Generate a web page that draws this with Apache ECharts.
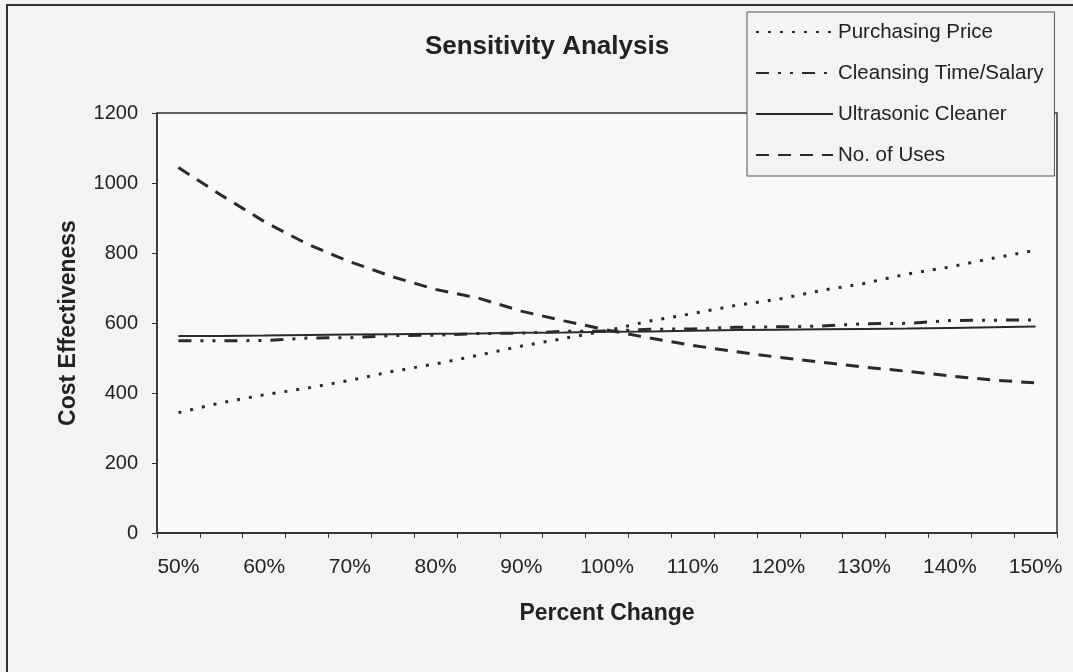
<!DOCTYPE html>
<html>
<head>
<meta charset="utf-8">
<script src="https://cdn.jsdelivr.net/npm/echarts@6/dist/echarts.min.js"></script>
<style>
html,body{margin:0;padding:0;background:#f3f3f3;}
#chart{width:1073px;height:672px;}
</style>
</head>
<body>
<div id="chart"></div>
<script>
const categories = ['50%','55%','60%','65%','70%','75%','80%','85%','90%','95%','100%','105%','110%','115%','120%','125%','130%','135%','140%','145%','150%'];
const purchasingPrice = [344,372,395,414,436,462,483,508,534,556,578,606,627,650,668,693,713,740,760,785,808];
const cleansingTime = [549,549,550,557,558,564,565,570,571,576,577,582,583,588,589,591,598,599,607,608,609];
const ultrasonicCleaner = [563,563,564,566,567,568,569,570,572,573,575,576,578,580,581,582,583,584,586,588,590];
const noOfUses = [1044,965,890,826,775,732,696,671,634,606,580,557,536,518,502,488,474,462,449,437,429];
const yTicks = {min: 0, max: 1200, interval: 200};

const FONT = "'Liberation Sans', Arial, sans-serif";
const LINE = '#2a2a2a';

const chart = echarts.init(document.getElementById('chart'));
chart.setOption({
  backgroundColor: '#f3f3f3',
  animation: false,
  graphic: [{
    type: 'rect', z: -1,
    shape: {x: 7, y: 5, width: 1100, height: 700},
    style: {fill: 'none', stroke: '#333', lineWidth: 2}
  }],
  title: {
    text: 'Sensitivity Analysis',
    left: 542, top: 29, textAlign: 'center',
    textStyle: {fontFamily: FONT, fontSize: 26, fontWeight: 'bold', color: '#222'}
  },
  legend: {
    orient: 'vertical',
    left: 747, top: 12,
    padding: [9, 11, 10, 8],
    itemWidth: 77, itemHeight: 22, itemGap: 19,
    backgroundColor: '#f3f3f3',
    borderColor: '#555', borderWidth: 1,
    itemStyle: {opacity: 0},
    textStyle: {fontFamily: FONT, fontSize: 20.5, color: '#222', lineHeight: 22},
    data: ['Purchasing Price','Cleansing Time/Salary','Ultrasonic Cleaner','No. of Uses'],
    z: 10
  },
  grid: {
    left: 157, right: 16, top: 113, bottom: 139,
    show: true, backgroundColor: '#f9f9f9', borderColor: '#333', borderWidth: 1.5
  },
  xAxis: {
    type: 'category',
    data: categories,
    boundaryGap: true,
    name: 'Percent Change', nameLocation: 'middle', nameGap: 69,
    nameTextStyle: {fontFamily: FONT, fontSize: 23, fontWeight: 'bold', color: '#222'},
    axisLine: {lineStyle: {color: '#333', width: 2}},
    axisTick: {show: true, interval: 0, length: 5, lineStyle: {color: '#333'}},
    axisLabel: {interval: 1, margin: 24, fontFamily: FONT, fontSize: 21, color: '#222'},
    splitLine: {show: false}
  },
  yAxis: {
    type: 'value',
    min: yTicks.min, max: yTicks.max, interval: yTicks.interval,
    name: 'Cost Effectiveness', nameLocation: 'middle', nameGap: 77, nameRotate: 90,
    nameTextStyle: {fontFamily: FONT, fontSize: 23, fontWeight: 'bold', color: '#222'},
    axisLine: {show: true, lineStyle: {color: '#333', width: 1.5}},
    axisTick: {show: true, length: 5, lineStyle: {color: '#333'}},
    axisLabel: {margin: 19, fontFamily: FONT, fontSize: 20, color: '#222',
      formatter: function (v) { return String(v); }},
    splitLine: {show: false}
  },
  series: [
    {name: 'Purchasing Price', type: 'line', data: purchasingPrice, symbol: 'none',
     lineStyle: {color: LINE, width: 3, type: [3, 9]}, itemStyle: {color: LINE}},
    {name: 'Cleansing Time/Salary', type: 'line', data: cleansingTime, symbol: 'none',
     lineStyle: {color: LINE, width: 3, type: [13, 9, 3, 9, 3, 9]}, itemStyle: {color: LINE}},
    {name: 'Ultrasonic Cleaner', type: 'line', data: ultrasonicCleaner, symbol: 'none',
     lineStyle: {color: LINE, width: 2, type: 'solid'}, itemStyle: {color: LINE}},
    {name: 'No. of Uses', type: 'line', data: noOfUses, symbol: 'none',
     lineStyle: {color: LINE, width: 3, type: [13, 9]}, itemStyle: {color: LINE}}
  ]
});
</script>
</body>
</html>
